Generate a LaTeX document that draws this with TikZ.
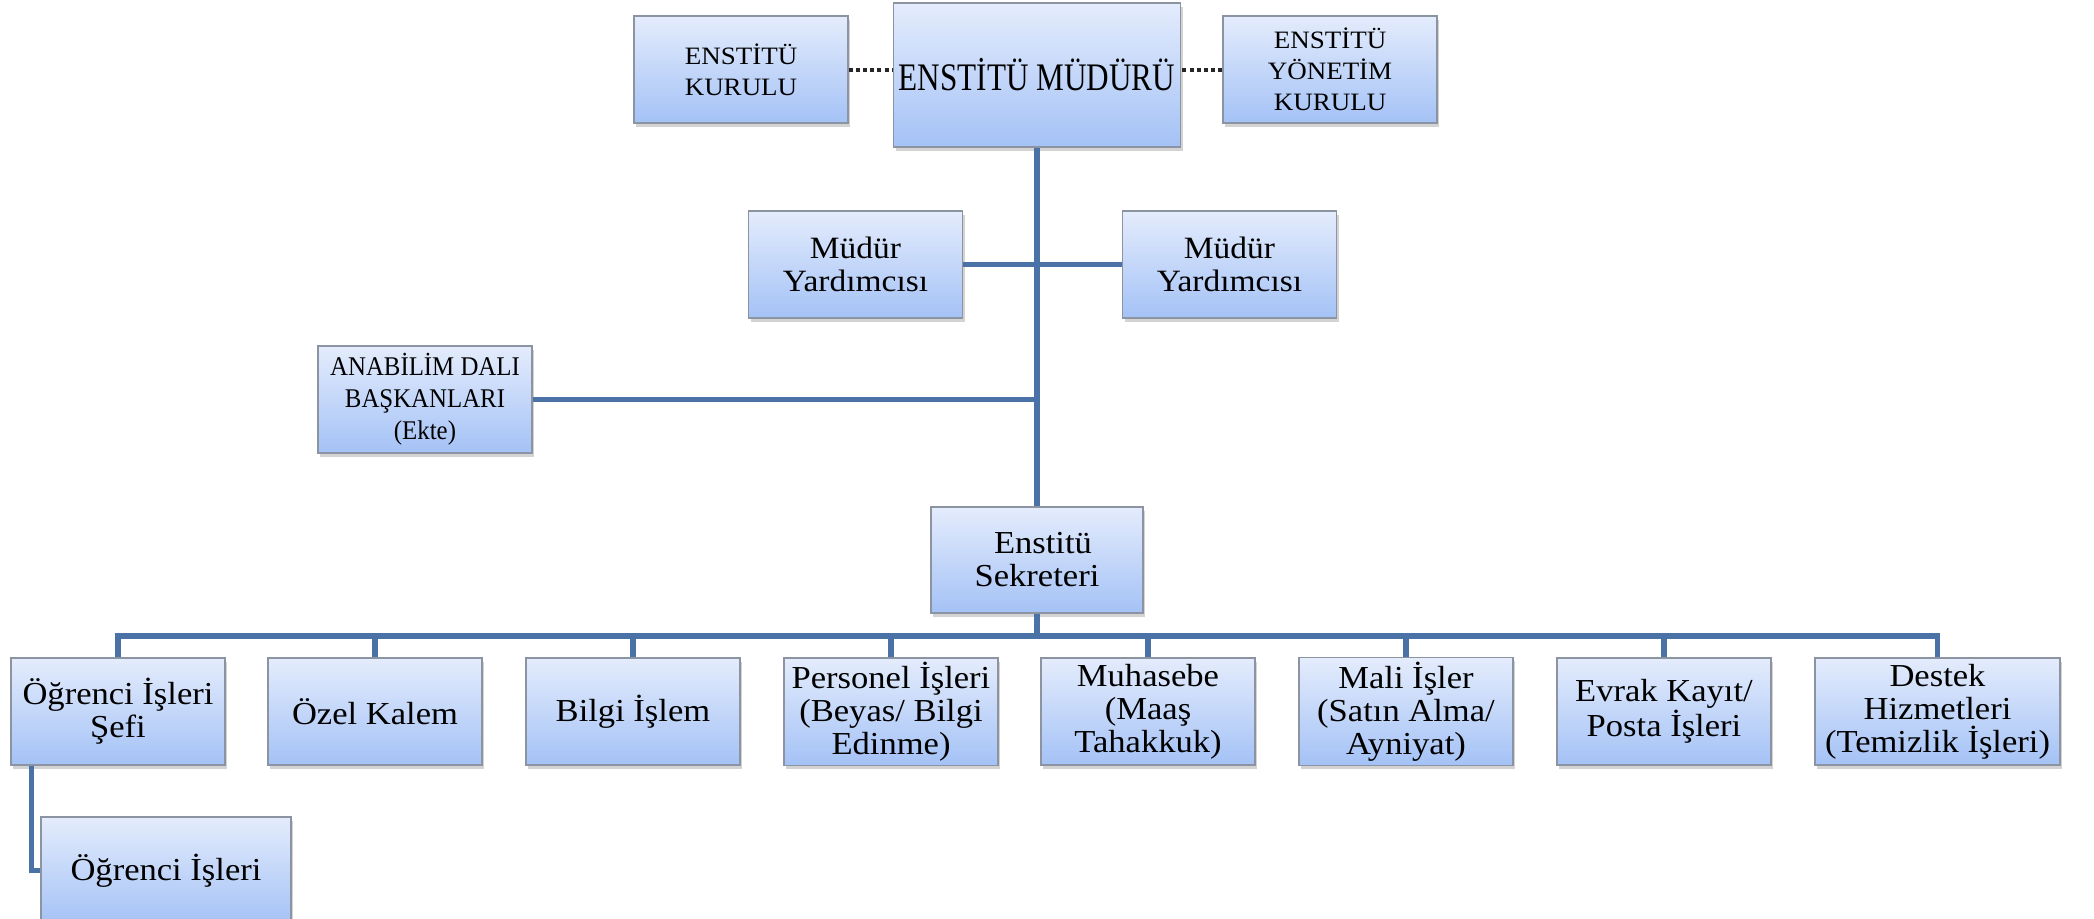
\documentclass[tikz,border=0pt]{standalone}
\usepackage{fontspec}
\setmainfont[FakeStretch=1.08]{Liberation Serif}
\newfontfamily\narrowserif[FakeStretch=0.8]{Liberation Serif}
\newfontfamily\capsserif[FakeStretch=0.92]{Liberation Serif}
\usetikzlibrary{shadows}
\definecolor{boxtop}{RGB}{228,236,252}
\definecolor{boxbot}{RGB}{164,194,246}
\definecolor{boxline}{RGB}{140,148,162}
\definecolor{linkblue}{RGB}{74,114,166}
\begin{document}
\begin{tikzpicture}[x=0.5pt,y=-0.5pt,
    unit/.style={draw=boxline, line width=0.6pt, top color=boxtop, bottom color=boxbot,
      align=center, inner sep=2pt, minimum width=107pt, minimum height=53.5pt,
      drop shadow={shadow xshift=1pt, shadow yshift=-1.8pt, opacity=0.35},
      font=\fontsize{16}{16.5}\selectfont},
    head/.style={unit, font=\fontsize{12.5}{15.5}\selectfont},
    link/.style={draw=linkblue, line width=2.8pt},
    side/.style={draw=black!85, line width=2pt, dash pattern=on 2pt off 1.6pt}]
    \useasboundingbox (0,0) rectangle (2094,918);
    % top row
    \node[unit, minimum width=143.5pt, minimum height=72pt,
          font=\narrowserif\fontsize{19.5}{22}\selectfont] (mudur) at (1037,75) {ENSTİTÜ MÜDÜRÜ};
    \node[head] (kurul) at (741,69.5) {ENSTİTÜ\\KURULU};
    \node[head] (ykurul) at (1330,69.5) {ENSTİTÜ\\YÖNETİM\\KURULU};
    \draw[side] (kurul.east) -- (kurul.east -| mudur.west);
    \draw[side] (ykurul.west) -- (ykurul.west -| mudur.east);
    % deputies and departments
    \node[unit, font=\fontsize{15.5}{16.2}\selectfont] (myl) at (855.5,264.5) {Müdür\\Yardımcısı};
    \node[unit, font=\fontsize{15.5}{16.2}\selectfont] (myr) at (1229.5,264.5) {Müdür\\Yardımcısı};
    \node[unit, font=\capsserif\fontsize{13.5}{16}\selectfont] (abd) at (425,399.5) {ANABİLİM DALI\\BAŞKANLARI\\(Ekte)};
    \node[unit, minimum width=106pt, minimum height=53pt] (sekreter) at (1037,560) {\hspace*{6pt}Enstitü\\Sekreteri};
    \draw[link] (mudur.south) -- (sekreter.north);
    \draw[link] (myl.east) -- (myr.west);
    \draw[link] (abd.east) -- (abd.east -| mudur.south);
    % offices
    \node[unit] (ogrsef) at (118,711.5) {Öğrenci İşleri\\Şefi};
    \node[unit] (kalem) at (375,711.5) {Özel Kalem};
    \node[unit] (bilgi) at (633,711.5) {Bilgi İşlem};
    \node[unit] (personel) at (891,711.5) {Personel İşleri\\(Beyas/ Bilgi\\Edinme)};
    \node[unit] (muhasebe) at (1148,711.5) {Muhasebe\\(Maaş\\Tahakkuk)};
    \node[unit] (mali) at (1406,711.5) {Mali İşler\\(Satın Alma/\\Ayniyat)};
    \node[unit] (evrak) at (1664,711.5) {Evrak Kayıt/\\Posta İşleri};
    \node[unit, minimum width=122.5pt] (destek) at (1937.5,711.5) {Destek\\Hizmetleri\\(Temizlik İşleri)};
    \node[unit, minimum width=125pt] (ogrenci) at (166,870.5) {Öğrenci İşleri};
    \coordinate (bus) at (1037,636);
    \draw[link] (sekreter.south) -- (bus);
    \draw[link] (bus) -| (ogrsef.north);
    \draw[link] (bus) -| (kalem.north);
    \draw[link] (bus) -| (bilgi.north);
    \draw[link] (bus) -| (personel.north);
    \draw[link] (bus) -| (muhasebe.north);
    \draw[link] (bus) -| (mali.north);
    \draw[link] (bus) -| (evrak.north);
    \draw[link] (bus) -| (destek.north);
    \draw[link] ([xshift=10.5pt]ogrsef.south west) |- (ogrenci.west);
\end{tikzpicture}
\end{document}
